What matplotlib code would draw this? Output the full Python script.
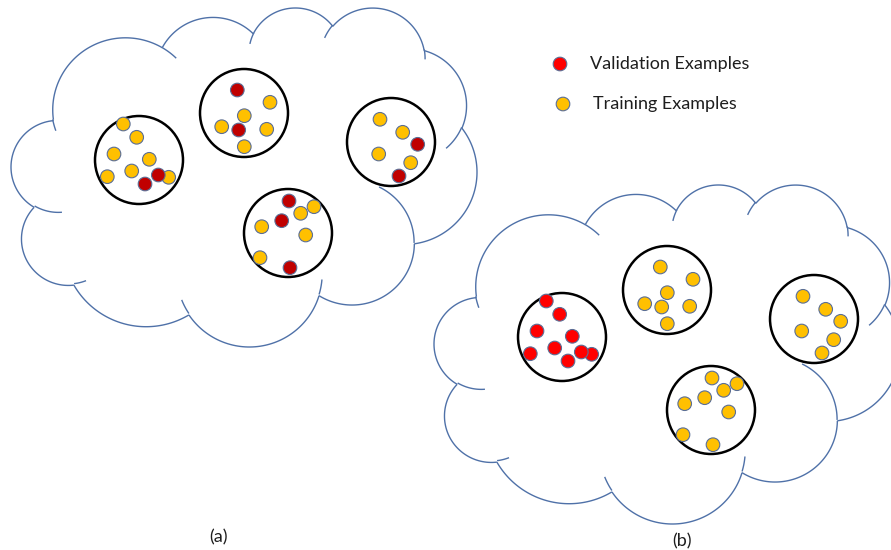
import numpy as np
import matplotlib
matplotlib.use("Agg")
import matplotlib.pyplot as plt
import matplotlib.patches as patches

# cloud outline (office "cloud" preset, 43200x43200 path units)
cloud_start = (3900, 14370)
cloud_arcs = [
    (6753, 9190, -11429249, 7426832),
    (5333, 7267, -8646143, 5396714),
    (4365, 5945, -8748475, 5983381),
    (4857, 6595, -7859164, 7034504),
    (5333, 7273, -4722533, 6541615),
    (6775, 9220, -2776035, 7816140),
    (5785, 7867, 37501, 6842000),
    (6752, 9215, 1347096, 6910353),
    (7720, 10543, 3974558, 4542661),
    (4360, 5918, -16496525, 8804134),
    (4345, 5945, -14809710, 9151131),
]
cloud_tails = [
    ((4693, 26177), (4345, 5945, 5204520, 1585770)),
    ((6928, 34899), (4360, 5918, 4416628, 686848)),
    ((16478, 39090), (6752, 9215, 8257449, 844866)),
    ((28827, 34751), (6752, 9215, 387196, 959901)),
    ((34129, 22954), (5785, 7867, -4217541, 4255042)),
    ((41798, 15354), (5333, 7273, 1819082, 1665090)),
    ((38324, 5426), (4857, 6595, -824660, 891534)),
    ((29078, 3952), (4857, 6595, -8950887, 1091722)),
    ((22141, 4720), (4365, 5945, -9809656, 1061181)),
    ((14000, 5192), (6753, 9190, -4002417, 739161)),
    ((4127, 15789), (6753, 9190, 9215807, 711990)),
]

# cloud (a) pixel box, cloud (b) is the same shifted
box_a = (11, 477, 8, 347)
shift_b = (423, 177)

# group circles (cloud a)
ring_x = [139, 244, 391, 288]
ring_y = [160, 113, 142, 233]
ring_r = 44

# dots in cloud (a): x, y, 1 = validation
dot_x = [123.3, 136.7, 114, 149.3, 131.7, 107.3, 168.7, 158.3, 145,
         237.3, 270, 244.3, 221.7, 238.7, 266.7, 244.3,
         380, 402.7, 417.7, 378.7, 410.7, 399,
         289, 314, 300.7, 281.7, 261.7, 305.7, 260, 290]
dot_y = [124, 137.3, 154, 159.3, 171, 176.7, 177.3, 175, 184,
         90, 102.3, 115.7, 126.7, 130, 129.3, 146.7,
         119.3, 132.3, 144.3, 154, 162.7, 176,
         201, 206.7, 213.3, 220.7, 226.7, 235, 257.7, 267.7]
dot_val_a = [0, 0, 0, 0, 0, 0, 0, 1, 1,
             1, 0, 0, 0, 1, 0, 0,
             0, 0, 1, 0, 0, 1,
             1, 0, 0, 1, 0, 0, 0, 1]
dot_ring = [0] * 9 + [1] * 7 + [2] * 6 + [3] * 8
# cloud (b): whole first group is validation
dot_val_b = [1 if g == 0 else 0 for g in dot_ring]

YELLOW = '#FFC000'
DARKRED = '#C00000'
RED = '#FF0000'
EDGE = '#5a6e96'
CLOUD = '#4f71a8'


def arc_to(cur, wR, hR, st, sw):
    a = np.radians(np.linspace(st, st + sw, 80) / 60000.0)
    t = np.unwrap(np.arctan2(wR * np.sin(a), hR * np.cos(a)))
    cx = cur[0] - wR * np.cos(t[0])
    cy = cur[1] - hR * np.sin(t[0])
    return cx + wR * np.cos(t), cy + hR * np.sin(t)


# build main outline
segs = []
cur = cloud_start
for wR, hR, st, sw in cloud_arcs:
    xs, ys = arc_to(cur, wR, hR, st, sw)
    segs.append((xs, ys))
    cur = (xs[-1], ys[-1])
allx = np.concatenate([s[0] for s in segs])
ally = np.concatenate([s[1] for s in segs])
segs.append((np.array([cur[0], cloud_start[0]]), np.array([cur[1], cloud_start[1]])))
for p0, (wR, hR, st, sw) in cloud_tails:
    segs.append(arc_to(p0, wR, hR, st, sw))

x0, x1, y0, y1 = box_a
sx = (x1 - x0) / (allx.max() - allx.min())
sy = (y1 - y0) / (ally.max() - ally.min())


def draw_cloud(ax, dx, dy):
    for xs, ys in segs:
        px = x0 + (xs - allx.min()) * sx + dx
        py = y0 + (ys - ally.min()) * sy + dy
        ax.plot(px, py, color=CLOUD, lw=1.0, solid_capstyle='butt')


fig = plt.figure(figsize=(8.91, 5.50), dpi=100)
ax = fig.add_axes([0, 0, 1, 1])
ax.set_xlim(0, 891)
ax.set_ylim(550, 0)
ax.set_aspect('equal')
ax.axis('off')

for (dx, dy), vals, vcol in [((0, 0), dot_val_a, DARKRED), (shift_b, dot_val_b, RED)]:
    draw_cloud(ax, dx, dy)
    for cx, cy in zip(ring_x, ring_y):
        ax.add_patch(patches.Circle((cx + dx, cy + dy), ring_r, fill=False,
                                    ec='black', lw=1.8, zorder=3))
    for x, y, v in zip(dot_x, dot_y, vals):
        ax.add_patch(patches.Circle((x + dx, y + dy), 6.8, fc=vcol if v else YELLOW,
                                    ec=EDGE, lw=0.8, zorder=4))

# legend
ax.add_patch(patches.Circle((560, 64), 6.8, fc=RED, ec=EDGE, lw=0.8))
ax.add_patch(patches.Circle((563, 104), 6.8, fc=YELLOW, ec=EDGE, lw=0.8))
ax.text(590, 64, 'Validation Examples', family='Lato', fontsize=13,
        va='center', ha='left', color='#1e1e1e')
ax.text(593, 104, 'Training Examples', family='Lato', fontsize=13,
        va='center', ha='left', color='#1e1e1e')

ax.text(218, 537, '(a)', family='Lato', fontsize=13, ha='center', va='center', color='#1e1e1e')
ax.text(682, 541, '(b)', family='Lato', fontsize=13, ha='center', va='center', color='#1e1e1e')

fig.savefig('out.png', dpi=100)
